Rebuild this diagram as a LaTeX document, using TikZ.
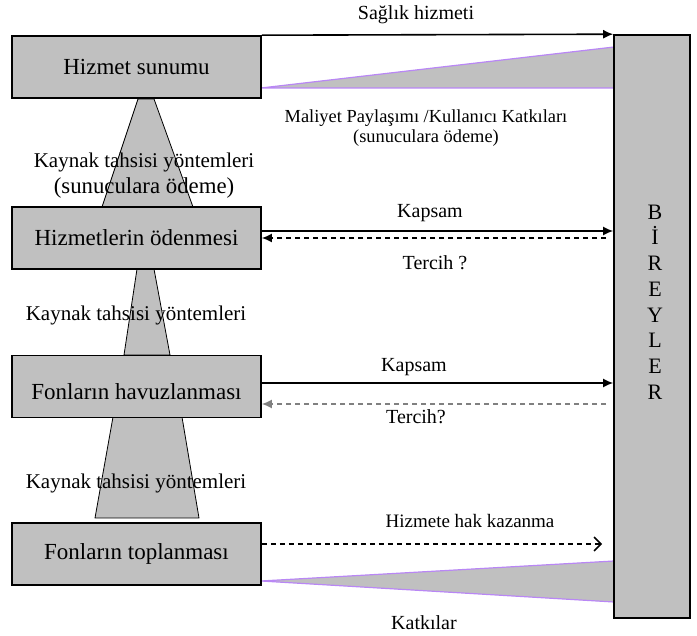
\documentclass[tikz,border=0pt]{standalone}
\usepackage{fontspec}
\setmainfont{Liberation Serif}
\usetikzlibrary{calc,arrows.meta}
\definecolor{gri}{RGB}{192,192,192}
\definecolor{mor}{RGB}{185,135,245}

\begin{document}
\begin{tikzpicture}[x=0.5pt,y=-0.5pt,
    kutu/.style={draw,fill=gri,line width=0.8pt,minimum width=124.5pt,minimum height=31pt,inner sep=0pt,font=\fontsize{11.5}{13}\selectfont},
    yazi/.style={inner sep=0pt,font=\fontsize{10}{12}\selectfont},
    sol/.style={inner sep=0pt,align=center,font=\fontsize{10.5}{13}\selectfont},
    kama/.style={fill=gri,draw=mor,line width=0.6pt},
    huni/.style={fill=gri,draw=black,line width=0.4pt},
    ok/.style={line width=0.8pt,-{Latex[length=5pt,width=4.5pt]}},
    kesik/.style={dash pattern=on 2.5pt off 2pt}]
  \useasboundingbox (0,0) rectangle (697,636);
  % huniler
  \filldraw[huni] (138,99) -- (154,99) -- (193,207) -- (102,207) -- cycle;
  \filldraw[huni] (137,269) -- (154,269) -- (170,355) -- (124,355) -- cycle;
  \filldraw[huni] (113,417) -- (182,417) -- (199,518) -- (95,518) -- cycle;
  % kamalar
  \filldraw[kama] (261,88) -- (614,47) -- (614,88) -- cycle;
  \filldraw[kama] (261,581) -- (614,561) -- (614,602) -- cycle;
  % kutular
  \node[kutu] (sunum) at (136.5,67) {Hizmet sunumu};
  \node[kutu] (odeme) at (136.5,238) {Hizmetlerin ödenmesi};
  \node[kutu,text height=13pt] (havuz) at (136.5,386.5) {Fonların havuzlanması};
  \node[kutu] (toplama) at (136.5,554) {Fonların toplanması};
  \node[kutu,minimum width=38pt,minimum height=291.5pt] (bireyler) at (652,326.5) {};
  \node[inner sep=0pt,align=center,font=\fontsize{11}{12.85}\selectfont] (harfler) at (655,302) {B\\İ\\R\\E\\Y\\L\\E\\R};
  % oklar
  \draw[ok] (sunum.north east) -- (bireyler.north west);
  \coordinate (k1) at ([yshift=3.5pt]odeme.east);
  \draw[ok] (k1) -- (k1 -| bireyler.west);
  \draw[ok,kesik] ($(odeme.east -| bireyler.west)+(-7,0)$) -- (odeme.east);
  \coordinate (k2) at ([yshift=1.75pt]havuz.east);
  \draw[ok] (k2) -- (k2 -| bireyler.west);
  \coordinate (t2) at ([yshift=-8.75pt]havuz.east);
  \draw[ok,kesik,gray] ($(t2 -| bireyler.west)+(-7,0)$) -- (t2);
  \coordinate (h) at ([yshift=5pt]toplama.east);
  \draw[line width=0.8pt,kesik,-{Straight Barb[length=3.5pt,width=7pt]}] (h) -- ($(h -| bireyler.west)+(-11,0)$);
  % etiketler
  \node[yazi] (saglik) at (416,15) {Sağlık hizmeti};
  \node[yazi,align=center,font=\fontsize{9.2}{10}\selectfont] (maliyet) at (426,128) {Maliyet Paylaşımı /Kullanıcı Katkıları\\(sunuculara ödeme)};
  \node[sol] (kaynak1) at (144,176) {Kaynak tahsisi yöntemleri\\{\fontsize{11.4}{13}\selectfont (sunuculara ödeme)}};
  \node[sol] (kaynak2) at (136,315) {Kaynak tahsisi yöntemleri};
  \node[sol] (kaynak3) at (136,483) {Kaynak tahsisi yöntemleri};
  \node[yazi] (kapsam1) at (430,213) {Kapsam};
  \node[yazi] (tercih1) at (435,263) {Tercih ?};
  \node[yazi] (kapsam2) at (414,367) {Kapsam};
  \node[yazi] (tercih2) at (416,417) {Tercih?};
  \node[yazi,font=\fontsize{9.5}{11}\selectfont] (hak) at (470,521) {Hizmete hak kazanma};
  \node[yazi] (katkilar) at (424,623) {Katkılar};
\end{tikzpicture}
\end{document}
